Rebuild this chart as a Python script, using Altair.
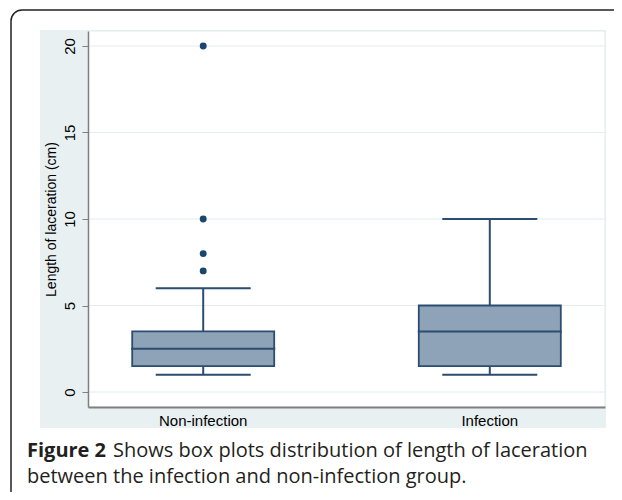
import altair as alt
import pandas as pd

# ---- data ----
groups = ["Non-infection", "Infection"]
lower_whisker = [1, 1]
q1 = [1.5, 1.5]
median = [2.5, 3.5]
q3 = [3.5, 5]
upper_whisker = [6, 10]
outlier_group = ["Non-infection", "Non-infection", "Non-infection", "Non-infection"]
outlier_values = [7, 8, 10, 20]
y_ticks = [0, 5, 10, 15, 20]
y_title = "Length of laceration (cm)"
caption_bold = "Figure 2"
caption_line1 = "Shows box plots distribution of length of laceration"
caption_line2 = "between the infection and non-infection group."

box_df = pd.DataFrame({"group": groups, "lo": lower_whisker, "q1": q1,
                       "med": median, "q3": q3, "hi": upper_whisker})
out_df = pd.DataFrame({"group": outlier_group, "v": outlier_values})
tick_df = pd.DataFrame({"v": y_ticks})
one = pd.DataFrame({"a": [0]})

W, H = 517, 376
NAVY = "#1a476f"
EDGE = "#2a4d70"
FILL = "#8fa3b8"
AXC = "#808080"

xscale = alt.Scale(domain=groups, paddingInner=0.5, paddingOuter=0.152)
yscale = alt.Scale(domain=[-0.867, 20.867], nice=False, zero=False)

yaxis = alt.Axis(values=y_ticks, grid=False, title=y_title, titleFont="Liberation Sans",
                 titleFontSize=14, titleFontWeight="normal", titleColor="#000000",
                 titlePadding=4, labelFont="Liberation Sans", labelFontSize=15,
                 labelColor="#000000", labelAngle=270, labelAlign="center",
                 labelBaseline="alphabetic", labelPadding=8, tickSize=6,
                 tickColor=AXC, domainColor=AXC, domainWidth=1.5, tickWidth=1, zindex=1)
xaxis = alt.Axis(title=None, labelAngle=0, ticks=False, tickSize=0, labelFont="Liberation Sans",
                 labelFontSize=15, labelColor="#000000", labelPadding=6,
                 domainColor=AXC, domainWidth=2, labelBaseline="top", zindex=1)

X = alt.X("group:N", scale=xscale, axis=xaxis)

region = alt.Chart(one).mark_rect(fill="#e8f0f2", clip=False).encode(
    x=alt.value(-48), x2=alt.value(W + 1), y=alt.value(-1), y2=alt.value(397))
border = alt.Chart(one).mark_rect(fill="transparent", stroke="#222222", strokeWidth=1.5,
                                  cornerRadius=11, clip=False).encode(
    x=alt.value(-77), x2=alt.value(W + 60), y=alt.value(-21), y2=alt.value(480))
plotbg = alt.Chart(one).mark_rect(fill="#ffffff", stroke="#e3ebee", strokeWidth=1).encode(
    x=alt.value(0), x2=alt.value(W), y=alt.value(0), y2=alt.value(H))
grid = alt.Chart(tick_df).mark_rule(color="#e3ecef", strokeWidth=1).encode(
    y=alt.Y("v:Q", scale=yscale, axis=yaxis))

upper = alt.Chart(box_df).mark_rule(color=EDGE, strokeWidth=2).encode(
    x=X, y=alt.Y("q3:Q", scale=yscale, axis=yaxis), y2="hi:Q")
lower = alt.Chart(box_df).mark_rule(color=EDGE, strokeWidth=2).encode(
    x=X, y=alt.Y("lo:Q", scale=yscale, axis=yaxis), y2="q1:Q")
box = alt.Chart(box_df).mark_bar(size=142, fill=FILL, stroke=EDGE, strokeWidth=1.8).encode(
    x=X, y=alt.Y("q1:Q", scale=yscale, axis=yaxis), y2="q3:Q")
med = alt.Chart(box_df).mark_tick(size=144, thickness=2, color=EDGE, opacity=1).encode(
    x=X, y=alt.Y("med:Q", scale=yscale, axis=yaxis))
cap_hi = alt.Chart(box_df).mark_tick(size=95, thickness=2, color=EDGE, opacity=1).encode(
    x=X, y=alt.Y("hi:Q", scale=yscale, axis=yaxis))
cap_lo = alt.Chart(box_df).mark_tick(size=95, thickness=2, color=EDGE, opacity=1).encode(
    x=X, y=alt.Y("lo:Q", scale=yscale, axis=yaxis))
pts = alt.Chart(out_df).mark_circle(size=48, color=NAVY, opacity=1).encode(
    x=X, y=alt.Y("v:Q", scale=yscale, axis=yaxis))

cap_font = "Open Sans"
cap_size = 20
cap_color = "#231f20"
t_bold = alt.Chart(pd.DataFrame({"t": [caption_bold]})).mark_text(
    align="left", baseline="alphabetic", font=cap_font, fontSize=cap_size,
    fontWeight="bold", color=cap_color).encode(text="t:N", x=alt.value(-61), y=alt.value(426))
t_l1 = alt.Chart(pd.DataFrame({"t": [caption_line1]})).mark_text(
    align="left", baseline="alphabetic", font=cap_font, fontSize=cap_size,
    color=cap_color).encode(text="t:N", x=alt.value(25), y=alt.value(426))
t_l2 = alt.Chart(pd.DataFrame({"t": [caption_line2]})).mark_text(
    align="left", baseline="alphabetic", font=cap_font, fontSize=cap_size,
    color=cap_color).encode(text="t:N", x=alt.value(-61), y=alt.value(452))

chart = alt.layer(region, border, plotbg, grid, upper, lower, box, med, cap_hi, cap_lo,
                  pts, t_bold, t_l1, t_l2).properties(
    width=W, height=H,
    autosize=alt.AutoSizeParams(type="none"),
    padding={"left": 80, "top": 23, "right": 9, "bottom": 85},
    background="#ffffff",
).configure_view(stroke=None)

chart.save("out.html", embed_options={"renderer": "svg", "actions": False})
